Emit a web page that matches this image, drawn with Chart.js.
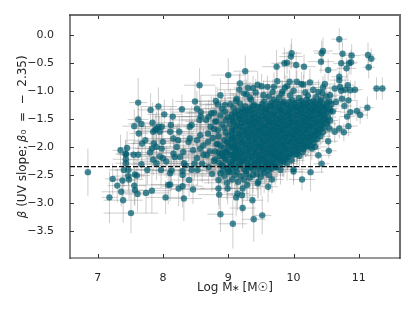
<!DOCTYPE html>
<html>
<head>
<meta charset="utf-8">
<style>
  html, body { margin: 0; padding: 0; background: #fff; }
</style>
<script src="https://cdn.jsdelivr.net/npm/chart.js@4"></script>
</head>
<body>
<canvas id="myChart" width="415" height="311"></canvas>
<script>
const xTicks = [7, 8, 9, 10, 11];
const yTicks = [0, -0.5, -1, -1.5, -2, -2.5, -3, -3.5];
const betaZero = -2.35;
const xRange = [6.576, 11.63];
const yRange = [-3.98, 0.351];

const logMass = [
  10.70,11.14,11.19,11.15,10.89,10.75,10.45,10.43,10.42,10.73,
  10.88,10.85,10.81,10.53,10.16,10.04,9.97,9.96,9.90,9.86,
  9.74,9.26,9.00,9.18,9.75,9.94,10.05,10.12,10.15,10.25,
  9.90,9.87,9.83,9.45,9.51,9.60,9.70,9.38,9.30,9.17,
  9.24,9.33,9.13,8.88,8.81,9.03,8.84,10.70,10.70,10.48,
  10.45,10.38,10.71,10.83,10.63,10.94,10.87,10.79,10.73,11.27,
  11.36,11.13,11.02,10.97,10.87,10.78,10.84,10.74,10.65,10.82,
  10.84,10.77,10.70,10.63,10.53,10.54,10.38,10.33,10.43,10.26,
  10.13,10.00,10.00,9.80,9.67,9.61,9.46,9.45,9.37,9.22,
  9.52,9.39,9.07,8.88,9.12,9.14,9.21,8.85,8.86,8.99,
  9.22,9.29,8.85,8.98,6.85,7.23,7.30,7.36,7.18,7.39,
  7.51,7.61,7.57,7.56,7.38,7.48,7.40,7.47,7.47,7.57,
  7.60,7.76,7.74,7.83,8.04,8.32,8.08,8.11,8.24,8.30,
  8.46,8.40,8.30,8.30,8.13,8.11,8.44,8.53,7.97,7.43,
  7.43,7.43,7.55,7.62,7.80,7.85,7.95,8.00,8.18,8.05,
  7.90,7.67,8.32,8.52,8.62,8.56,8.49,7.62,7.81,7.93,
  8.29,8.02,8.15,7.62,7.56,7.67,7.63,7.84,7.98,7.93,
  7.88,8.12,8.11,7.68,7.73,7.35,7.45,7.43,7.85,7.90,
  7.95,7.86,7.90,7.83,7.98,8.00,8.21,8.23,8.16,8.25,
  8.41,8.44,8.52,8.58,8.58,8.56,8.66,8.57,8.41,8.39,
  8.52,8.62,8.69,8.69,8.46,8.57,8.31,8.16,8.26,8.67,
  8.74,8.80,8.73,8.84,8.76,8.82,8.72,8.86,8.78,8.90,
  8.35,8.48,8.60,8.70,8.75,8.88,8.94,9.02,9.06,9.10,
  9.15,9.19,9.24,9.28,9.33,9.38,9.44,9.50,9.55,9.62,
  9.62,9.78,9.95,10.08,10.22,10.35,10.50,9.12,9.35,9.55,
  9.70,9.85,9.98,10.12,10.20,10.30,10.42,10.55,8.95,9.18,
  9.40,9.52,9.64,9.77,9.90,10.02,10.11,10.20,10.29,10.38,
  10.47,10.58,8.90,9.08,9.22,9.33,9.45,9.58,9.70,9.80,
  9.92,10.00,10.10,10.18,10.27,10.36,10.45,10.55,8.78,8.95,
  9.10,9.20,9.30,9.40,9.50,9.60,9.70,9.79,9.88,9.97,
  10.06,10.15,10.24,10.33,10.42,10.50,10.60,8.70,8.88,9.00,
  9.12,9.22,9.32,9.42,9.52,9.61,9.70,9.80,9.89,9.98,
  10.07,10.16,10.25,10.34,10.43,10.53,8.82,8.96,9.08,9.18,
  9.28,9.37,9.46,9.55,9.64,9.74,9.83,9.92,10.01,10.10,
  10.19,10.28,10.37,10.46,10.56,8.90,9.02,9.14,9.25,9.34,
  9.43,9.52,9.61,9.70,9.79,9.88,9.97,10.06,10.15,10.24,
  10.33,10.42,10.51,8.78,8.94,9.06,9.18,9.28,9.38,9.48,
  9.57,9.66,9.75,9.84,9.93,10.02,10.11,10.20,10.29,10.38,
  10.47,10.55,8.96,9.06,9.16,9.26,9.36,9.46,9.55,9.64,
  9.73,9.82,9.91,10.00,10.09,10.18,10.27,10.36,10.45,8.85,
  9.00,9.12,9.22,9.32,9.42,9.51,9.60,9.69,9.78,9.87,
  9.96,10.05,10.14,10.23,10.32,10.41,8.94,9.05,9.16,9.26,
  9.36,9.46,9.55,9.64,9.73,9.82,9.91,10.00,10.09,10.18,
  10.27,10.36,8.84,9.00,9.11,9.21,9.31,9.41,9.50,9.59,
  9.68,9.77,9.86,9.95,10.04,10.13,10.22,10.31,8.93,9.06,
  9.17,9.27,9.37,9.47,9.56,9.65,9.74,9.83,9.92,10.01,
  10.10,10.19,10.28,8.80,8.97,9.10,9.21,9.31,9.41,9.51,
  9.60,9.69,9.78,9.87,9.96,10.05,10.14,8.92,9.05,9.16,
  9.26,9.36,9.46,9.55,9.64,9.73,9.82,9.91,10.00,10.09,
  8.96,9.08,9.20,9.31,9.42,9.52,9.61,9.70,9.79,9.88,
  9.97,9.05,9.18,9.30,9.41,9.51,9.60,9.70,9.80,8.99,
  9.12,9.24,9.35,9.46,9.56,9.66,9.74,9.13,9.27,9.52,
  9.66,9.74,9.84,9.94,10.04,10.14,10.24,10.33,10.41,10.51,
  9.26,9.38,9.50,9.60,9.68,9.78,9.86,9.96,10.05,10.14,
  10.23,10.32,10.41,10.50,9.15,9.25,9.35,9.44,9.54,9.64,
  9.74,9.83,9.93,10.02,10.11,10.20,10.29,10.38,10.47,10.56,
  9.06,9.16,9.26,9.36,9.46,9.56,9.66,9.75,9.84,9.93,
  10.03,10.12,10.20,10.29,10.38,10.47,9.05,9.17,9.27,9.37,
  9.47,9.57,9.66,9.75,9.84,9.94,10.03,10.12,10.21,10.30,
  10.39,10.48,9.08,9.20,9.30,9.40,9.50,9.60,9.69,9.78,
  9.87,9.96,10.06,10.15,10.24,10.33,10.42,10.51,9.12,9.22,
  9.33,9.43,9.53,9.62,9.71,9.80,9.89,9.98,10.07,10.16,
  10.25,10.34,10.43,9.10,9.21,9.31,9.41,9.50,9.60,9.69,
  9.78,9.87,9.96,10.05,10.14,10.23,10.32,10.41,9.06,9.17,
  9.27,9.37,9.47,9.56,9.65,9.74,9.83,9.92,10.01,10.10,
  10.19,10.28,10.37,9.08,9.20,9.31,9.41,9.51,9.60,9.69,
  9.78,9.87,9.96,10.05,10.14,10.23,10.32,9.10,9.21,9.31,
  9.41,9.51,9.60,9.69,9.78,9.87,9.96,10.05,10.14,10.23,
  9.02,9.15,9.26,9.36,9.46,9.55,9.64,9.73,9.82,9.91,
  10.00,10.09,10.18,10.26,9.12,9.22,9.32,9.42,9.52,9.61,
  9.70,9.79,9.88,9.97,10.06,10.15,9.10,9.20,9.31,9.41,
  9.51,9.60,9.69,9.78,9.87,9.96,10.05,9.15,9.26,9.36,
  9.46,9.55,9.64,9.73,9.82,9.91,9.22,9.35,9.47,9.57,
  9.66,9.75,9.85,9.30,9.46,9.58,9.68,9.05,9.38,9.62,
  8.88,8.98,9.06,8.90,9.00,9.08,8.86,8.95,9.03,9.12,
  8.92,9.02,9.10,8.80,8.87,8.96,9.04,9.10,8.92,9.00,
  9.16,9.24,9.31,9.40,9.48,9.58,9.66,9.72,9.83,9.90,
  9.28,9.42,9.54,9.68,9.82,10.00,10.18,10.30,10.44,10.56
];

const beta = [
  -0.08,-0.36,-0.43,-0.58,-0.37,-0.34,-0.29,-0.33,-0.48,-0.51,
  -0.49,-0.51,-0.60,-0.63,-0.57,-0.54,-0.33,-0.39,-0.50,-0.51,
  -0.57,-0.65,-0.72,-0.87,-0.83,-0.84,-0.84,-0.88,-0.89,-0.85,
  -0.92,-0.94,-1.01,-0.89,-0.92,-0.93,-0.93,-0.95,-0.95,-0.98,
  -1.05,-1.12,-1.14,-1.08,-1.18,-1.24,-1.24,-0.75,-0.81,-0.88,
  -0.94,-1.02,-0.93,-0.90,-0.96,-0.98,-0.99,-0.98,-1.00,-0.96,
  -0.96,-1.30,-1.43,-1.36,-1.38,-1.27,-1.17,-1.14,-1.20,-1.46,
  -1.63,-1.74,-1.67,-1.73,-1.90,-2.07,-2.15,-2.00,-2.30,-2.45,
  -2.58,-2.44,-2.40,-2.41,-2.58,-2.71,-2.62,-2.65,-2.95,-3.09,
  -3.22,-3.29,-3.37,-3.20,-2.90,-2.83,-2.86,-2.74,-2.85,-2.74,
  -2.74,-2.68,-2.59,-2.64,-2.45,-2.57,-2.69,-2.80,-2.90,-2.95,
  -3.18,-2.84,-2.77,-2.69,-2.60,-2.58,-2.41,-2.41,-2.52,-2.49,
  -2.51,-2.41,-2.82,-2.78,-2.90,-2.92,-2.68,-2.67,-2.74,-2.70,
  -2.76,-2.59,-2.50,-2.43,-2.42,-2.47,-2.41,-2.41,-2.41,-2.12,
  -2.22,-2.29,-2.14,-2.14,-2.10,-2.23,-2.17,-2.20,-2.18,-2.26,
  -2.29,-2.31,-2.29,-2.20,-2.14,-0.90,-1.19,-1.21,-1.34,-1.28,
  -1.33,-1.42,-1.46,-1.51,-1.63,-1.59,-1.76,-1.57,-1.64,-1.64,
  -1.70,-1.61,-1.73,-1.94,-1.88,-2.06,-2.02,-2.13,-1.73,-1.67,
  -1.73,-1.94,-2.00,-2.03,-2.03,-1.91,-2.00,-1.88,-1.85,-1.73,
  -1.64,-1.61,-1.32,-1.38,-1.46,-1.52,-1.52,-1.79,-1.85,-1.91,
  -1.88,-1.97,-1.91,-1.76,-2.06,-2.03,-2.09,-2.12,-2.18,-2.15,
  -1.40,-1.55,-1.64,-1.70,-1.84,-1.95,-2.08,-2.10,-2.25,-2.32,
  -2.33,-2.30,-2.30,-2.36,-2.48,-2.47,-2.52,-2.45,-2.58,-2.50,
  -2.62,-2.52,-2.58,-2.48,-2.55,-2.50,-2.48,-2.53,-2.46,-2.50,
  -1.10,-1.12,-1.08,-1.13,-1.09,-1.11,-1.10,-1.18,-1.16,-1.19,
  -1.16,-1.19,-1.17,-1.18,-1.16,-1.18,-1.16,-1.19,-1.25,-1.23,
  -1.25,-1.24,-1.26,-1.23,-1.25,-1.24,-1.26,-1.23,-1.25,-1.24,
  -1.26,-1.24,-1.32,-1.30,-1.33,-1.31,-1.29,-1.32,-1.30,-1.33,
  -1.31,-1.30,-1.32,-1.29,-1.33,-1.31,-1.30,-1.32,-1.39,-1.37,
  -1.39,-1.38,-1.36,-1.39,-1.38,-1.37,-1.40,-1.37,-1.38,-1.39,
  -1.37,-1.39,-1.38,-1.36,-1.39,-1.38,-1.37,-1.46,-1.44,-1.47,
  -1.45,-1.46,-1.44,-1.47,-1.45,-1.46,-1.44,-1.47,-1.45,-1.46,
  -1.44,-1.47,-1.45,-1.46,-1.44,-1.47,-1.54,-1.52,-1.53,-1.51,
  -1.54,-1.52,-1.53,-1.51,-1.54,-1.52,-1.53,-1.51,-1.54,-1.52,
  -1.53,-1.51,-1.54,-1.52,-1.53,-1.60,-1.59,-1.61,-1.58,-1.60,
  -1.59,-1.61,-1.58,-1.60,-1.59,-1.61,-1.58,-1.60,-1.59,-1.61,
  -1.58,-1.60,-1.59,-1.68,-1.66,-1.67,-1.65,-1.68,-1.66,-1.67,
  -1.65,-1.68,-1.66,-1.67,-1.65,-1.68,-1.66,-1.67,-1.65,-1.68,
  -1.66,-1.67,-1.74,-1.72,-1.75,-1.73,-1.74,-1.72,-1.75,-1.73,
  -1.74,-1.72,-1.75,-1.73,-1.74,-1.72,-1.75,-1.73,-1.74,-1.81,
  -1.80,-1.82,-1.79,-1.81,-1.80,-1.82,-1.79,-1.81,-1.80,-1.82,
  -1.79,-1.81,-1.80,-1.82,-1.79,-1.81,-1.88,-1.87,-1.89,-1.86,
  -1.88,-1.87,-1.89,-1.86,-1.88,-1.87,-1.89,-1.86,-1.88,-1.87,
  -1.89,-1.86,-1.95,-1.94,-1.96,-1.93,-1.95,-1.94,-1.96,-1.93,
  -1.95,-1.94,-1.96,-1.93,-1.95,-1.94,-1.96,-1.93,-2.02,-2.00,
  -2.03,-2.01,-2.02,-2.00,-2.03,-2.01,-2.02,-2.00,-2.03,-2.01,
  -2.02,-2.00,-2.03,-2.08,-2.09,-2.07,-2.10,-2.08,-2.09,-2.07,
  -2.10,-2.08,-2.09,-2.07,-2.10,-2.08,-2.09,-2.16,-2.15,-2.17,
  -2.14,-2.16,-2.15,-2.17,-2.14,-2.16,-2.15,-2.17,-2.14,-2.16,
  -2.23,-2.22,-2.24,-2.21,-2.23,-2.22,-2.24,-2.21,-2.23,-2.22,
  -2.24,-2.30,-2.29,-2.31,-2.28,-2.30,-2.29,-2.31,-2.29,-2.38,
  -2.37,-2.39,-2.36,-2.38,-2.37,-2.39,-2.36,-2.44,-2.43,-2.42,
  -1.21,-1.20,-1.22,-1.20,-1.21,-1.22,-1.20,-1.21,-1.19,-1.21,
  -1.28,-1.27,-1.29,-1.28,-1.27,-1.29,-1.27,-1.28,-1.29,-1.27,
  -1.28,-1.29,-1.27,-1.28,-1.35,-1.36,-1.34,-1.35,-1.34,-1.36,
  -1.34,-1.35,-1.36,-1.34,-1.35,-1.34,-1.36,-1.35,-1.34,-1.36,
  -1.42,-1.43,-1.41,-1.42,-1.43,-1.41,-1.42,-1.43,-1.41,-1.42,
  -1.43,-1.41,-1.42,-1.43,-1.41,-1.42,-1.49,-1.50,-1.48,-1.49,
  -1.50,-1.48,-1.49,-1.50,-1.48,-1.49,-1.50,-1.48,-1.49,-1.50,
  -1.48,-1.49,-1.56,-1.57,-1.55,-1.56,-1.57,-1.55,-1.56,-1.57,
  -1.55,-1.56,-1.57,-1.55,-1.56,-1.57,-1.55,-1.56,-1.63,-1.64,
  -1.62,-1.63,-1.64,-1.62,-1.63,-1.64,-1.62,-1.63,-1.64,-1.62,
  -1.63,-1.64,-1.62,-1.70,-1.71,-1.69,-1.70,-1.71,-1.69,-1.70,
  -1.71,-1.69,-1.70,-1.71,-1.69,-1.70,-1.71,-1.69,-1.77,-1.78,
  -1.76,-1.77,-1.78,-1.76,-1.77,-1.78,-1.76,-1.77,-1.78,-1.76,
  -1.77,-1.78,-1.76,-1.84,-1.85,-1.83,-1.84,-1.85,-1.83,-1.84,
  -1.85,-1.83,-1.84,-1.85,-1.83,-1.84,-1.85,-1.91,-1.92,-1.90,
  -1.91,-1.92,-1.90,-1.91,-1.92,-1.90,-1.91,-1.92,-1.90,-1.91,
  -1.98,-1.99,-1.97,-1.98,-1.99,-1.97,-1.98,-1.99,-1.97,-1.98,
  -1.99,-1.97,-1.98,-1.99,-2.05,-2.06,-2.04,-2.05,-2.06,-2.04,
  -2.05,-2.06,-2.04,-2.05,-2.06,-2.04,-2.12,-2.13,-2.11,-2.12,
  -2.13,-2.11,-2.12,-2.13,-2.11,-2.12,-2.13,-2.19,-2.20,-2.18,
  -2.19,-2.20,-2.18,-2.19,-2.20,-2.18,-2.26,-2.27,-2.25,-2.26,
  -2.27,-2.25,-2.26,-2.33,-2.34,-2.32,-2.33,-2.40,-2.40,-2.41,
  -1.98,-1.91,-1.86,-2.12,-2.06,-2.00,-2.28,-2.20,-2.15,-2.10,
  -2.34,-2.27,-2.20,-2.22,-2.16,-2.10,-2.33,-2.26,-2.42,-2.44,
  -2.33,-2.24,-2.37,-2.32,-2.26,-2.35,-2.30,-2.36,-2.25,-2.30,
  -1.06,-1.03,-1.08,-1.02,-1.05,-1.00,-1.03,-0.98,-1.04,-1.08
];

const massErr = [
  .12,.10,.08,.09,.14,.16,.15,.12,.20,.12,
  .10,.12,.15,.14,.18,.12,.15,.18,.14,.20,
  .22,.18,.26,.30,.22,.15,.18,.14,.20,.16,
  .20,.25,.18,.22,.30,.18,.25,.24,.22,.32,
  .28,.35,.25,.30,.32,.36,.28,.12,.14,.16,
  .14,.20,.12,.10,.15,.12,.14,.16,.12,.06,
  .06,.10,.12,.14,.16,.12,.14,.15,.18,.12,
  .14,.12,.16,.14,.15,.12,.20,.18,.12,.20,
  .20,.15,.22,.25,.18,.15,.22,.18,.16,.20,
  .14,.18,.22,.20,.24,.18,.22,.28,.32,.25,
  .28,.20,.30,.35,.05,.12,.15,.30,.12,.30,
  .42,.20,.25,.18,.18,.22,.14,.30,.25,.15,
  .20,.30,.35,.30,.30,.28,.45,.30,.40,.32,
  .35,.30,.38,.42,.30,.40,.35,.30,.38,.14,
  .20,.16,.20,.30,.32,.38,.30,.28,.40,.35,
  .34,.25,.42,.38,.40,.24,.30,.14,.20,.28,
  .30,.26,.28,.16,.18,.20,.14,.28,.32,.30,
  .24,.34,.30,.22,.28,.12,.14,.16,.30,.36,
  .38,.34,.30,.26,.40,.44,.36,.38,.42,.46,
  .42,.36,.30,.44,.40,.46,.38,.44,.50,.36,
  .46,.42,.48,.40,.44,.38,.50,.42,.46,.40,
  .40,.46,.42,.38,.44,.48,.42,.36,.46,.40,
  .50,.44,.38,.34,.42,.40,.46,.36,.30,.34,
  .28,.36,.24,.32,.28,.30,.22,.26,.32,.24,
  .22,.18,.24,.16,.20,.14,.16,.30,.24,.26,
  .20,.22,.18,.16,.20,.14,.16,.14,.36,.30,
  .28,.24,.26,.20,.24,.18,.20,.16,.18,.14,
  .14,.12,.38,.34,.30,.28,.26,.24,.22,.20,
  .22,.18,.20,.16,.18,.14,.16,.14,.40,.36,
  .32,.30,.28,.26,.24,.22,.20,.22,.18,.20,
  .16,.18,.14,.16,.14,.12,.12,.42,.38,.34,
  .32,.30,.28,.26,.24,.22,.20,.22,.18,.20,
  .16,.18,.14,.16,.14,.12,.42,.38,.34,.32,
  .30,.28,.26,.24,.22,.20,.22,.18,.20,.16,
  .18,.14,.16,.14,.12,.42,.38,.34,.32,.30,
  .28,.26,.24,.22,.20,.22,.18,.20,.16,.18,
  .14,.16,.14,.44,.40,.36,.32,.30,.28,.26,
  .24,.22,.20,.22,.18,.20,.16,.18,.14,.16,
  .14,.12,.40,.36,.34,.30,.28,.26,.24,.22,
  .20,.22,.18,.20,.16,.18,.14,.16,.14,.44,
  .40,.36,.32,.30,.28,.26,.24,.22,.20,.22,
  .18,.20,.16,.18,.14,.16,.40,.36,.34,.30,
  .28,.26,.24,.22,.20,.22,.18,.20,.16,.18,
  .14,.16,.44,.38,.34,.32,.30,.28,.26,.24,
  .22,.20,.22,.18,.20,.16,.18,.14,.40,.36,
  .32,.30,.28,.26,.24,.22,.20,.22,.18,.20,
  .16,.18,.14,.42,.38,.34,.30,.28,.26,.24,
  .22,.20,.22,.18,.20,.16,.18,.40,.36,.32,
  .30,.28,.26,.24,.22,.20,.22,.18,.20,.16,
  .40,.36,.32,.28,.26,.24,.22,.20,.22,.18,
  .20,.36,.32,.28,.26,.24,.22,.20,.22,.38,
  .32,.28,.26,.24,.22,.20,.22,.30,.26,.22,
  .20,.18,.16,.18,.14,.16,.14,.12,.14,.12,
  .28,.24,.22,.20,.18,.20,.16,.18,.14,.16,
  .14,.16,.12,.14,.34,.30,.26,.24,.22,.20,
  .18,.20,.16,.18,.14,.16,.12,.14,.12,.10,
  .38,.34,.30,.28,.24,.22,.20,.18,.20,.16,
  .18,.14,.16,.12,.14,.12,.36,.32,.28,.26,
  .24,.22,.20,.18,.20,.16,.18,.14,.16,.12,
  .14,.12,.36,.32,.28,.26,.24,.22,.20,.18,
  .20,.16,.18,.14,.16,.12,.14,.12,.36,.32,
  .28,.26,.24,.22,.20,.18,.20,.16,.18,.14,
  .16,.12,.14,.38,.32,.28,.26,.24,.22,.20,
  .18,.20,.16,.18,.14,.16,.12,.14,.38,.34,
  .28,.26,.24,.22,.20,.18,.20,.16,.18,.14,
  .16,.12,.14,.38,.32,.28,.26,.24,.22,.20,
  .18,.20,.16,.18,.14,.16,.12,.36,.32,.28,
  .26,.24,.22,.20,.18,.20,.16,.18,.14,.16,
  .40,.34,.30,.26,.24,.22,.20,.18,.20,.16,
  .18,.14,.16,.12,.34,.32,.28,.26,.24,.22,
  .20,.18,.20,.16,.18,.14,.36,.32,.28,.26,
  .24,.22,.20,.18,.20,.16,.18,.34,.30,.28,
  .26,.22,.20,.18,.20,.16,.32,.28,.24,.22,
  .20,.18,.20,.30,.26,.24,.20,.36,.28,.22,
  .38,.34,.30,.36,.32,.30,.40,.36,.32,.28,
  .36,.32,.28,.40,.36,.34,.30,.28,.38,.34,
  .30,.26,.24,.22,.20,.22,.18,.20,.16,.18,
  .24,.22,.20,.18,.20,.16,.14,.16,.12,.14
];

const betaErr = [
  .20,.22,.18,.20,.20,.22,.24,.22,.20,.20,
  .22,.20,.18,.20,.22,.24,.26,.22,.20,.28,
  .30,.28,.30,.20,.32,.22,.20,.22,.18,.24,
  .20,.22,.18,.24,.22,.20,.26,.22,.26,.28,
  .24,.28,.30,.30,.26,.28,.30,.18,.16,.18,
  .20,.22,.16,.20,.18,.16,.18,.20,.16,.20,
  .20,.20,.16,.18,.20,.18,.16,.20,.18,.16,
  .18,.16,.18,.20,.18,.14,.20,.18,.16,.34,
  .20,.24,.22,.26,.24,.28,.30,.26,.30,.36,
  .34,.40,.44,.32,.34,.30,.32,.30,.26,.28,
  .30,.28,.32,.30,.42,.28,.30,.26,.46,.40,
  .36,.32,.28,.34,.30,.36,.30,.28,.26,.30,
  .28,.26,.36,.40,.30,.40,.34,.30,.32,.38,
  .26,.30,.30,.32,.34,.28,.30,.28,.32,.24,
  .26,.28,.24,.26,.22,.28,.30,.26,.32,.28,
  .30,.26,.32,.28,.24,.30,.36,.44,.30,.34,
  .26,.26,.32,.26,.30,.30,.34,.36,.32,.30,
  .28,.32,.30,.34,.28,.28,.30,.26,.34,.30,
  .28,.32,.30,.34,.30,.28,.36,.30,.32,.28,
  .30,.34,.32,.30,.28,.34,.30,.32,.30,.34,
  .30,.32,.36,.30,.34,.32,.30,.34,.32,.30,
  .30,.34,.32,.30,.36,.28,.34,.30,.32,.34,
  .32,.30,.34,.30,.32,.36,.30,.34,.32,.30,
  .34,.32,.30,.36,.34,.32,.30,.34,.36,.30,
  .18,.20,.22,.18,.20,.18,.16,.22,.20,.24,
  .20,.18,.22,.18,.20,.18,.16,.18,.26,.24,
  .22,.20,.24,.20,.22,.18,.20,.18,.16,.18,
  .16,.18,.26,.24,.22,.20,.24,.22,.20,.22,
  .18,.20,.18,.16,.18,.16,.18,.16,.28,.26,
  .24,.22,.24,.20,.22,.20,.22,.18,.20,.18,
  .16,.18,.16,.18,.16,.18,.16,.30,.26,.24,
  .22,.24,.20,.22,.20,.22,.18,.20,.18,.20,
  .16,.18,.16,.18,.16,.18,.30,.26,.24,.22,
  .24,.20,.22,.20,.22,.18,.20,.18,.20,.16,
  .18,.16,.18,.16,.18,.30,.26,.24,.22,.24,
  .20,.22,.20,.22,.18,.20,.18,.20,.16,.18,
  .16,.18,.16,.32,.28,.26,.24,.22,.24,.20,
  .22,.20,.22,.18,.20,.18,.20,.16,.18,.16,
  .18,.16,.28,.26,.24,.22,.24,.20,.22,.20,
  .22,.18,.20,.18,.20,.16,.18,.16,.18,.32,
  .28,.26,.24,.22,.24,.20,.22,.20,.22,.18,
  .20,.18,.20,.16,.18,.16,.28,.26,.24,.24,
  .22,.24,.20,.22,.20,.22,.18,.20,.18,.20,
  .16,.18,.32,.28,.26,.24,.24,.22,.24,.20,
  .22,.20,.22,.18,.20,.18,.20,.16,.30,.28,
  .26,.24,.24,.22,.24,.20,.22,.20,.22,.18,
  .20,.18,.20,.32,.30,.28,.26,.24,.26,.22,
  .24,.22,.24,.20,.22,.20,.22,.32,.30,.28,
  .26,.28,.24,.26,.22,.24,.22,.24,.20,.22,
  .32,.30,.28,.30,.26,.28,.24,.26,.22,.24,
  .22,.32,.30,.30,.28,.30,.26,.28,.24,.34,
  .32,.32,.30,.32,.28,.30,.26,.34,.32,.30,
  .20,.18,.20,.16,.18,.16,.18,.16,.18,.16,
  .24,.22,.20,.22,.18,.20,.18,.20,.16,.18,
  .16,.18,.16,.18,.26,.24,.22,.20,.22,.18,
  .20,.18,.20,.16,.18,.16,.18,.16,.18,.16,
  .26,.24,.22,.24,.20,.22,.18,.20,.18,.20,
  .16,.18,.16,.18,.16,.18,.26,.24,.22,.24,
  .20,.22,.18,.20,.18,.20,.16,.18,.16,.18,
  .16,.18,.28,.24,.22,.24,.20,.22,.18,.20,
  .18,.20,.16,.18,.16,.18,.16,.18,.28,.24,
  .22,.24,.20,.22,.18,.20,.18,.20,.16,.18,
  .16,.18,.16,.28,.26,.24,.22,.24,.20,.22,
  .18,.20,.18,.20,.16,.18,.16,.18,.28,.26,
  .24,.22,.24,.20,.22,.18,.20,.18,.20,.16,
  .18,.16,.18,.30,.26,.24,.22,.24,.20,.22,
  .20,.22,.18,.20,.18,.20,.16,.30,.26,.24,
  .22,.24,.20,.22,.20,.22,.18,.20,.18,.20,
  .30,.28,.26,.24,.26,.22,.24,.20,.22,.18,
  .20,.18,.20,.18,.32,.28,.26,.24,.26,.22,
  .24,.20,.22,.20,.22,.18,.32,.30,.28,.26,
  .28,.24,.26,.22,.24,.20,.22,.32,.30,.28,
  .30,.26,.28,.24,.26,.22,.34,.32,.30,.28,
  .30,.26,.28,.36,.32,.30,.28,.36,.34,.30,
  .32,.34,.30,.34,.32,.30,.36,.32,.30,.28,
  .34,.32,.30,.34,.32,.30,.34,.32,.36,.34,
  .30,.28,.32,.30,.28,.32,.30,.32,.28,.30,
  .26,.24,.26,.22,.24,.22,.20,.18,.20,.18
];

// error bars go under the markers, each one stroked on its own so the alpha builds up
const errorBars = {
  id: 'errorBars',
  beforeDatasetsDraw(chart) {
    const { ctx, chartArea, scales: { x, y } } = chart;
    ctx.save();
    ctx.beginPath();
    ctx.rect(chartArea.left, chartArea.top, chartArea.width, chartArea.height);
    ctx.clip();
    ctx.lineWidth = 1;
    ctx.strokeStyle = 'rgba(125, 125, 125, 0.38)';
    logMass.forEach((m, i) => {
      ctx.beginPath();
      ctx.moveTo(x.getPixelForValue(m - massErr[i]), y.getPixelForValue(beta[i]));
      ctx.lineTo(x.getPixelForValue(m + massErr[i]), y.getPixelForValue(beta[i]));
      ctx.stroke();
      ctx.beginPath();
      ctx.moveTo(x.getPixelForValue(m), y.getPixelForValue(beta[i] - betaErr[i]));
      ctx.lineTo(x.getPixelForValue(m), y.getPixelForValue(beta[i] + betaErr[i]));
      ctx.stroke();
    });
    ctx.restore();
  }
};

// frame with inward ticks on all four sides
const frame = {
  id: 'frame',
  afterDraw(chart) {
    const { ctx, chartArea: a, scales: { x, y } } = chart;
    const line = (x1, y1, x2, y2, color, width) => {
      ctx.beginPath();
      ctx.moveTo(x1, y1);
      ctx.lineTo(x2, y2);
      ctx.strokeStyle = color;
      ctx.lineWidth = width;
      ctx.stroke();
    };
    ctx.save();
    xTicks.forEach(t => {
      const px = Math.round(x.getPixelForValue(t)) + 0.5;
      line(px, a.bottom, px, a.bottom - 4, '#333', 1);
      line(px, a.top, px, a.top + 4, '#333', 1);
    });
    yTicks.forEach(t => {
      const py = Math.round(y.getPixelForValue(t)) + 0.5;
      line(a.left, py, a.left + 4, py, '#333', 1);
      line(a.right, py, a.right - 4, py, '#333', 1);
    });
    line(a.left - 1, a.top, a.right + 1, a.top, '#6e6e6e', 2);
    line(a.right, a.top, a.right, a.bottom + 1, '#6e6e6e', 2);
    line(a.left, a.top, a.left, a.bottom + 1, '#333', 1.2);
    line(a.left, a.bottom, a.right, a.bottom, '#333', 1.2);
    ctx.restore();
  }
};

const config = {
  type: 'scatter',
  data: {
    datasets: [
      {
        type: 'line',
        data: xRange.map(v => ({ x: v, y: betaZero })),
        borderColor: '#111',
        borderWidth: 1.3,
        borderDash: [5, 2],
        pointRadius: 0,
        order: 0
      },
      {
        data: logMass.map((m, i) => ({ x: m, y: beta[i] })),
        pointBackgroundColor: 'rgba(0, 94, 112, 0.72)',
        pointBorderWidth: 0,
        pointRadius: 3.2,
        order: 1
      }
    ]
  },
  options: {
    responsive: false,
    animation: false,
    layout: { padding: { top: 15, right: 15 } },
    plugins: { legend: { display: false }, tooltip: { enabled: false } },
    scales: {
      x: {
        type: 'linear',
        min: xRange[0],
        max: xRange[1],
        grid: { display: false },
        border: { display: false },
        afterBuildTicks: s => { s.ticks = xTicks.map(value => ({ value })); },
        afterFit: s => { s.height = 53; },
        ticks: {
          color: '#262626',
          padding: 6,
          maxRotation: 0,
          font: { family: 'DejaVu Sans', size: 11 },
          callback: v => String(v)
        },
        title: {
          display: true,
          text: 'Log M⁎ [M☉]',
          color: '#262626',
          padding: { top: 3, bottom: 16 },
          font: { family: 'DejaVu Sans', size: 12 }
        }
      },
      y: {
        min: yRange[0],
        max: yRange[1],
        grid: { display: false },
        border: { display: false },
        afterBuildTicks: s => { s.ticks = yTicks.map(value => ({ value })); },
        afterFit: s => { s.width = 70; },
        ticks: {
          color: '#262626',
          padding: 8,
          font: { family: 'DejaVu Sans', size: 11 },
          callback: v => (v < 0 ? '\u2212' : '') + Math.abs(v).toFixed(1)
        },
        title: {
          display: true,
          text: '𝛽 (UV slope; 𝛽₀  =  −  2.35)',
          color: '#262626',
          padding: { top: 16, bottom: 0 },
          font: { family: 'DejaVu Sans', size: 12 }
        }
      }
    }
  },
  plugins: [errorBars, frame]
};

const myChart = new Chart(document.getElementById('myChart'), config);
</script>
</body>
</html>
